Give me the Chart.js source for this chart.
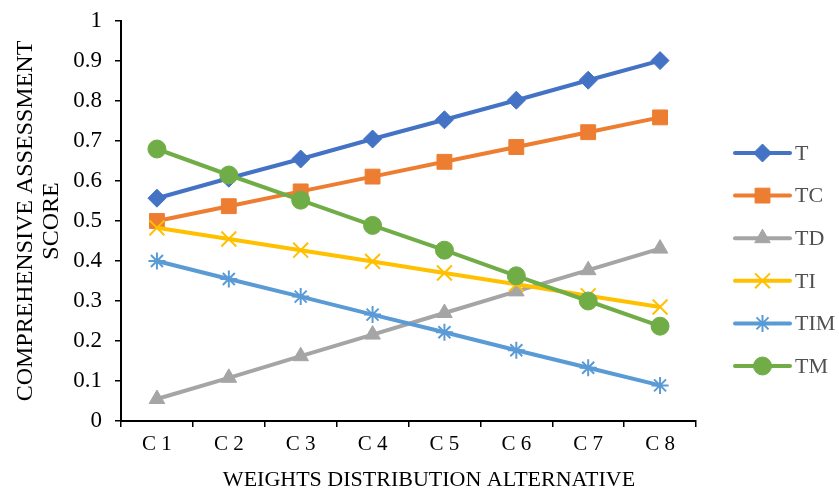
<!DOCTYPE html>
<html>
<head>
<meta charset="utf-8">
<script src="https://cdn.jsdelivr.net/npm/chart.js@4.4.1/dist/chart.umd.min.js"></script>
<style>
  html, body { margin: 0; padding: 0; background: #fff; }
  #wrap { width: 839px; height: 492px; position: relative; }
</style>
</head>
<body>
<div id="wrap"><canvas id="c" width="839" height="492"></canvas></div>
<script>
// Weight distribution alternatives
const categories = ['C 1', 'C 2', 'C 3', 'C 4', 'C 5', 'C 6', 'C 7', 'C 8'];

// Comprehensive assessment score per model
const seriesT   = [0.557, 0.607, 0.655, 0.705, 0.753, 0.802, 0.852, 0.901];
const seriesTC  = [0.500, 0.537, 0.574, 0.611, 0.648, 0.685, 0.722, 0.759];
const seriesTD  = [0.055, 0.108, 0.162, 0.216, 0.270, 0.324, 0.377, 0.431];
const seriesTI  = [0.483, 0.455, 0.427, 0.399, 0.370, 0.342, 0.313, 0.285];
const seriesTIM = [0.400, 0.355, 0.311, 0.266, 0.222, 0.177, 0.133, 0.089];
const seriesTM  = [0.680, 0.615, 0.552, 0.489, 0.427, 0.363, 0.300, 0.237];

const seriesNames = ['T', 'TC', 'TD', 'TI', 'TIM', 'TM'];
const yTicks = [0, 0.1, 0.2, 0.3, 0.4, 0.5, 0.6, 0.7, 0.8, 0.9, 1];
const xTitle = 'WEIGHTS DISTRIBUTION ALTERNATIVE';
const yTitle = ['COMPREHENSIVE ASSESSMENT', 'SCORE'];

const colors = ['#4472C4', '#ED7D31', '#A5A5A5', '#FFC000', '#5B9BD5', '#70AD47'];
const styles = [
  { pointStyle: 'rectRot',  radius: 9,    bw: 1 },
  { pointStyle: 'rect',     radius: 10.5, bw: 1 },
  { pointStyle: 'triangle', radius: 9,    bw: 1 },
  { pointStyle: 'crossRot', radius: 10.5, bw: 2 },
  { pointStyle: 'star',     radius: 8.5,  bw: 2 },
  { pointStyle: 'circle',   radius: 9,    bw: 1 }
];
const allSeries = [seriesT, seriesTC, seriesTD, seriesTI, seriesTIM, seriesTM];

const FONT = '"Liberation Serif", "Times New Roman", serif';
const LINE_W = 4;

const datasets = allSeries.map((data, i) => ({
  label: seriesNames[i],
  data: data,
  borderColor: colors[i],
  backgroundColor: colors[i],
  borderWidth: LINE_W,
  pointStyle: styles[i].pointStyle,
  pointRadius: styles[i].radius,
  pointHoverRadius: styles[i].radius,
  pointBorderWidth: styles[i].bw,
  pointBorderColor: colors[i],
  pointBackgroundColor: colors[i],
  tension: 0,
  fill: false,
  order: -i
}));

// Legend beside the plot plus the horizontal axis title
const sideLegend = {
  id: 'sideLegend',
  afterDraw(chart) {
    const ctx = chart.ctx;
    const x0 = 735, x1 = 790, top = 153, step = 42.6;
    ctx.save();
    seriesNames.forEach((name, i) => {
      const y = top + i * step;
      ctx.strokeStyle = colors[i];
      ctx.lineWidth = LINE_W;
      ctx.lineCap = 'round';
      ctx.beginPath();
      ctx.moveTo(x0, y);
      ctx.lineTo(x1, y);
      ctx.stroke();
      ctx.fillStyle = colors[i];
      ctx.lineWidth = styles[i].bw;
      ctx.lineCap = 'butt';
      Chart.helpers.drawPoint(ctx, {
        pointStyle: styles[i].pointStyle,
        radius: styles[i].radius,
        rotation: 0,
        borderWidth: styles[i].bw
      }, (x0 + x1) / 2, y);
      ctx.fillStyle = '#505050';
      ctx.font = '22px ' + FONT;
      ctx.textBaseline = 'middle';
      ctx.textAlign = 'left';
      ctx.fillText(name, 795, y + 1);
    });
    ctx.fillStyle = '#000';
    ctx.font = '22px ' + FONT;
    ctx.textAlign = 'center';
    ctx.textBaseline = 'middle';
    ctx.fillText(xTitle, 429, 480);
    ctx.restore();
  }
};

new Chart(document.getElementById('c'), {
  type: 'line',
  data: { labels: categories, datasets: datasets },
  plugins: [sideLegend],
  options: {
    responsive: false,
    animation: false,
    devicePixelRatio: 1,
    layout: { padding: { top: 21, right: 143, bottom: 0, left: 0 } },
    plugins: {
      legend: { display: false },
      tooltip: { enabled: false }
    },
    scales: {
      x: {
        type: 'category',
        offset: true,
        grid: {
          offset: true,
          display: true,
          drawOnChartArea: false,
          drawTicks: true,
          tickLength: 6,
          color: '#000',
          lineWidth: 1.5
        },
        border: { display: true, color: '#000', width: 2 },
        ticks: {
          color: '#000',
          font: { family: FONT, size: 21 },
          padding: 5,
          maxRotation: 0
        },
        afterFit(scale) {
          scale.height = 71;
          scale.paddingLeft = 0;
          scale.paddingRight = 0;
        }
      },
      y: {
        type: 'linear',
        min: 0,
        max: 1,
        afterBuildTicks(scale) { scale.ticks = yTicks.map(v => ({ value: v })); },
        grid: {
          display: true,
          drawOnChartArea: false,
          drawTicks: true,
          tickLength: 6,
          color: '#000',
          lineWidth: 1.5
        },
        border: { display: true, color: '#000', width: 2 },
        ticks: {
          color: '#000',
          font: { family: FONT, size: 23 },
          padding: 13,
          callback: (v) => String(Math.round(v * 10) / 10)
        },
        title: {
          display: true,
          text: yTitle,
          color: '#000',
          font: { family: FONT, size: 24, lineHeight: 1.08 },
          padding: { top: 13, bottom: 0 }
        },
        afterFit(scale) {
          scale.width = 121;
          scale.paddingTop = 0;
          scale.paddingBottom = 0;
        }
      }
    }
  }
});
</script>
</body>
</html>
